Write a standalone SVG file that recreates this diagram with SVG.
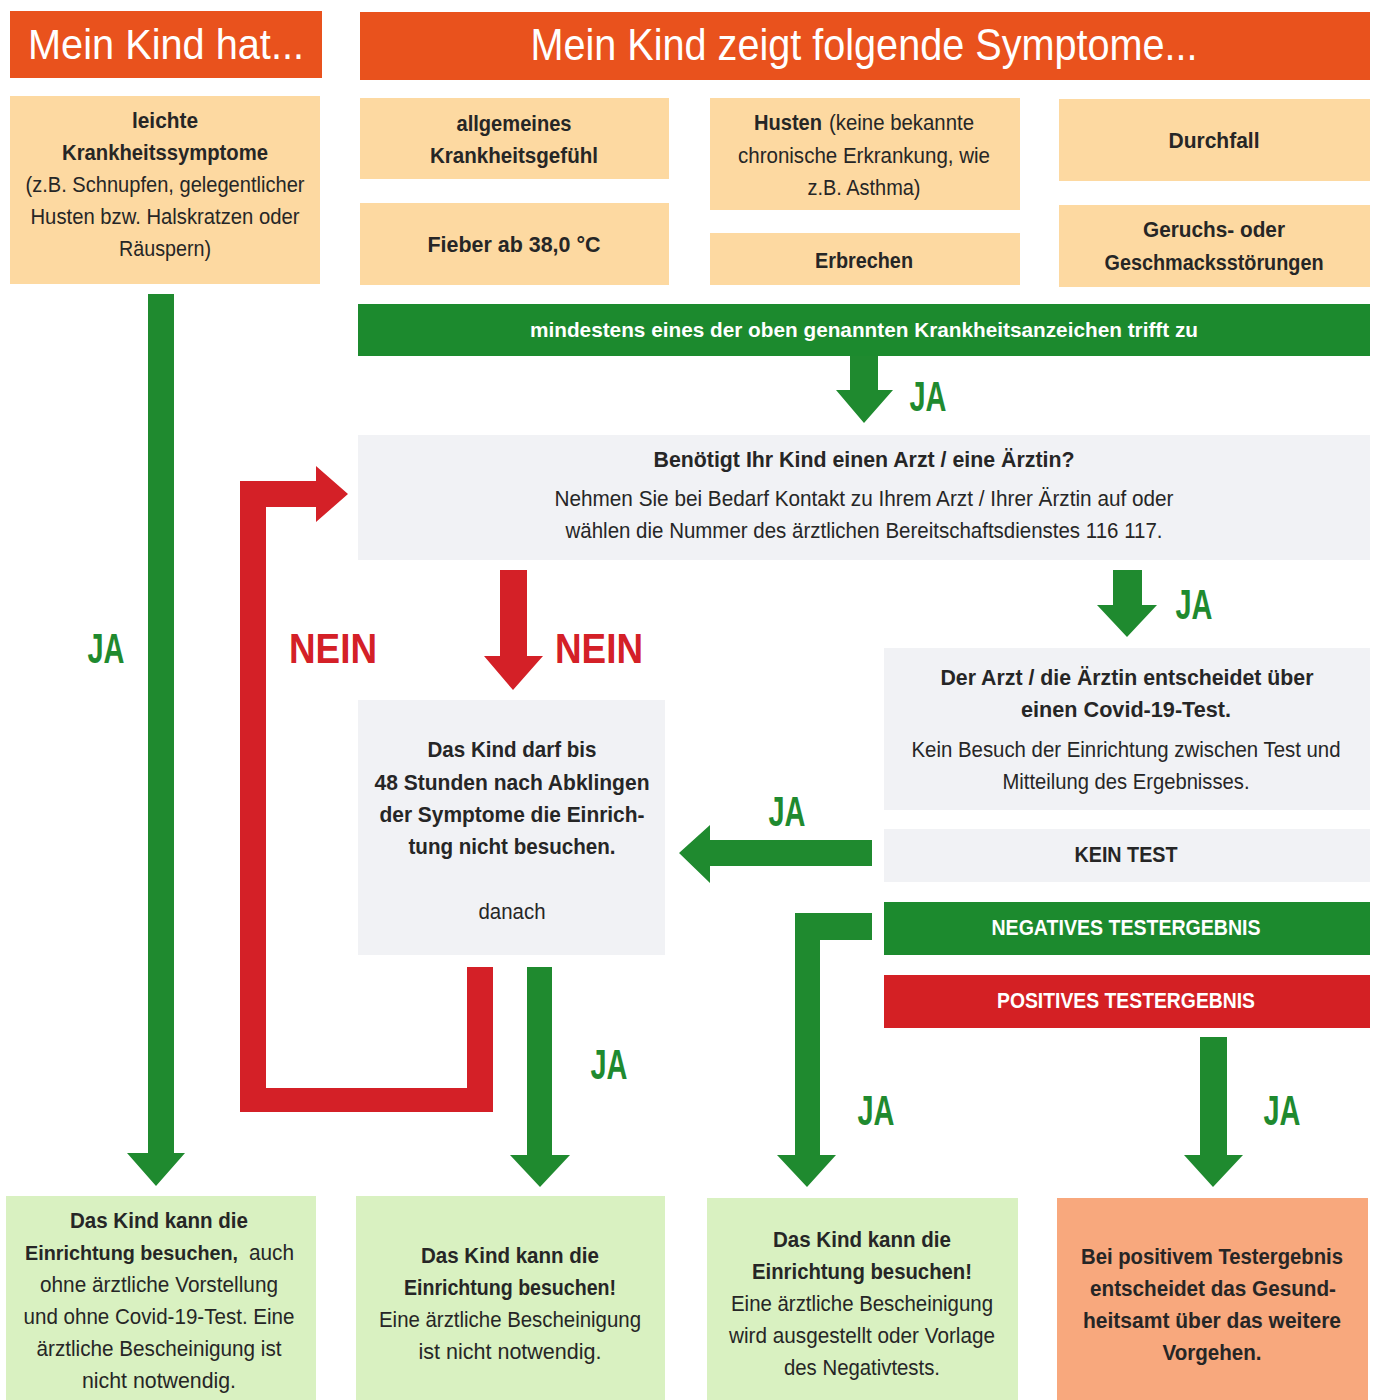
<svg xmlns="http://www.w3.org/2000/svg" width="1376" height="1400" viewBox="0 0 1376 1400">
<style>
text{font-family:"Liberation Sans",Arial,sans-serif;text-anchor:middle;fill:#262626;font-size:22px}
.b{font-weight:bold}
.s{text-anchor:start}
.hd{fill:#ffffff;font-size:42px}
.wb{fill:#ffffff;font-weight:bold;font-size:21px}
.ja{fill:#1f8a2f;font-weight:bold;font-size:42px}
.nein{fill:#d42027;font-weight:bold;font-size:42px}
.head{fill:#e9521d}
.sym{fill:#fdd9a1}
.grey{fill:#f1f2f5}
.lg{fill:#d9f1c1}
.sal{fill:#f8a87d}
.gbar{fill:#1c8a2e}
.rbar{fill:#d42024}
.ga{fill:#1f8a2f}
.ra{fill:#d42027}
</style>
<rect width="1376" height="1400" fill="#ffffff"/>

<g id="connectors">
<polygon class="ga" points="148,294 174,294 174,1153 185,1153 156,1186 127,1153 148,1153"/>
<polygon class="ga" points="850,356 878,356 878,390 893,390 864,423 836,390 850,390"/>
<polygon class="ra" points="467,967 493,967 493,1112 240,1112 240,481 316,481 316,466 348,494 316,522 316,507 266,507 266,1088 467,1088"/>
<polygon class="ra" points="500,570 527,570 527,656 543,656 513,690 484,656 500,656"/>
<polygon class="ga" points="1113,570 1142,570 1142,605 1157,605 1127,637 1097,605 1113,605"/>
<polygon class="ga" points="872,840 872,866 710,866 710,883 679,853 710,825 710,840"/>
<polygon class="ga" points="795,913 872,913 872,940 820,940 820,1155 836,1155 807,1187 777,1155 795,1155"/>
<polygon class="ga" points="527,967 552,967 552,1155 570,1155 540,1187 510,1155 527,1155"/>
<polygon class="ga" points="1200,1037 1227,1037 1227,1155 1243,1155 1213,1187 1184,1155 1200,1155"/>
<text class="ja" x="928" y="411" textLength="37" lengthAdjust="spacingAndGlyphs">JA</text>
<text class="ja" x="106" y="663" textLength="37" lengthAdjust="spacingAndGlyphs">JA</text>
<text class="nein" x="333" y="663" textLength="88" lengthAdjust="spacingAndGlyphs">NEIN</text>
<text class="nein" x="599" y="663" textLength="88" lengthAdjust="spacingAndGlyphs">NEIN</text>
<text class="ja" x="1194" y="619" textLength="37" lengthAdjust="spacingAndGlyphs">JA</text>
<text class="ja" x="787" y="826" textLength="37" lengthAdjust="spacingAndGlyphs">JA</text>
<text class="ja" x="609" y="1079" textLength="37" lengthAdjust="spacingAndGlyphs">JA</text>
<text class="ja" x="876" y="1125" textLength="37" lengthAdjust="spacingAndGlyphs">JA</text>
<text class="ja" x="1282" y="1125" textLength="37" lengthAdjust="spacingAndGlyphs">JA</text>
</g>

<g id="header-left">
<rect class="head" x="10" y="11" width="312" height="67"/>
<text class="hd" x="166" y="59" textLength="276" lengthAdjust="spacingAndGlyphs">Mein Kind hat...</text>
</g>
<g id="header-right">
<rect class="head" x="360" y="12" width="1010" height="68"/>
<text class="hd" x="864" y="60" textLength="667" lengthAdjust="spacingAndGlyphs" style="font-size:44px">Mein Kind zeigt folgende Symptome...</text>
</g>

<g id="leichte">
<rect class="sym" x="10" y="96" width="310" height="188"/>
<text class="b" x="165" y="128" textLength="66" lengthAdjust="spacingAndGlyphs">leichte</text>
<text class="b" x="165" y="160" textLength="206" lengthAdjust="spacingAndGlyphs">Krankheitssymptome</text>
<text x="165" y="192" textLength="279" lengthAdjust="spacingAndGlyphs">(z.B. Schnupfen, gelegentlicher</text>
<text x="165" y="224" textLength="269" lengthAdjust="spacingAndGlyphs">Husten bzw. Halskratzen oder</text>
<text x="165" y="256" textLength="92" lengthAdjust="spacingAndGlyphs">Räuspern)</text>
</g>

<g id="allgemeines">
<rect class="sym" x="360" y="98" width="309" height="81"/>
<text class="b" x="514" y="131" textLength="115" lengthAdjust="spacingAndGlyphs">allgemeines</text>
<text class="b" x="514" y="163" textLength="168" lengthAdjust="spacingAndGlyphs">Krankheitsgefühl</text>
</g>
<g id="fieber">
<rect class="sym" x="360" y="203" width="309" height="82"/>
<text class="b" x="514" y="252" textLength="173" lengthAdjust="spacingAndGlyphs">Fieber ab 38,0 °C</text>
</g>
<g id="husten">
<rect class="sym" x="710" y="98" width="310" height="112"/>
<text class="b s" x="754" y="130" textLength="68" lengthAdjust="spacingAndGlyphs">Husten</text>
<text class="s" x="829" y="130" textLength="145" lengthAdjust="spacingAndGlyphs">(keine bekannte</text>
<text x="864" y="163" textLength="252" lengthAdjust="spacingAndGlyphs">chronische Erkrankung, wie</text>
<text x="864" y="195" textLength="113" lengthAdjust="spacingAndGlyphs">z.B. Asthma)</text>
</g>
<g id="erbrechen">
<rect class="sym" x="710" y="233" width="310" height="52"/>
<text class="b" x="864" y="268" textLength="98" lengthAdjust="spacingAndGlyphs">Erbrechen</text>
</g>
<g id="durchfall">
<rect class="sym" x="1059" y="99" width="311" height="82"/>
<text class="b" x="1214" y="148" textLength="91" lengthAdjust="spacingAndGlyphs">Durchfall</text>
</g>
<g id="geruch">
<rect class="sym" x="1059" y="205" width="311" height="82"/>
<text class="b" x="1214" y="237" textLength="142" lengthAdjust="spacingAndGlyphs">Geruchs- oder</text>
<text class="b" x="1214" y="270" textLength="219" lengthAdjust="spacingAndGlyphs">Geschmacksstörungen</text>
</g>

<g id="mindestens">
<rect class="gbar" x="358" y="304" width="1012" height="52"/>
<text class="wb" x="864" y="337" textLength="668" lengthAdjust="spacingAndGlyphs">mindestens eines der oben genannten Krankheitsanzeichen trifft zu</text>
</g>

<g id="arzt-frage">
<rect class="grey" x="358" y="435" width="1012" height="125"/>
<text class="b" x="864" y="467" textLength="421" lengthAdjust="spacingAndGlyphs">Benötigt Ihr Kind einen Arzt / eine Ärztin?</text>
<text x="864" y="506" textLength="619" lengthAdjust="spacingAndGlyphs">Nehmen Sie bei Bedarf Kontakt zu Ihrem Arzt / Ihrer Ärztin auf oder</text>
<text x="864" y="538" textLength="597" lengthAdjust="spacingAndGlyphs">wählen die Nummer des ärztlichen Bereitschaftsdienstes 116 117.</text>
</g>

<g id="48-stunden">
<rect class="grey" x="358" y="700" width="307" height="255"/>
<text class="b" x="512" y="757" textLength="169" lengthAdjust="spacingAndGlyphs">Das Kind darf bis</text>
<text class="b" x="512" y="790" textLength="275" lengthAdjust="spacingAndGlyphs">48 Stunden nach Abklingen</text>
<text class="b" x="512" y="822" textLength="265" lengthAdjust="spacingAndGlyphs">der Symptome die Einrich-</text>
<text class="b" x="512" y="854" textLength="207" lengthAdjust="spacingAndGlyphs">tung nicht besuchen.</text>
<text x="512" y="919" textLength="67" lengthAdjust="spacingAndGlyphs">danach</text>
</g>

<g id="arzt-test">
<rect class="grey" x="884" y="648" width="486" height="162"/>
<text class="b" x="1127" y="685" textLength="373" lengthAdjust="spacingAndGlyphs">Der Arzt / die Ärztin entscheidet über</text>
<text class="b" x="1126" y="717" textLength="210" lengthAdjust="spacingAndGlyphs">einen Covid-19-Test.</text>
<text x="1126" y="757" textLength="429" lengthAdjust="spacingAndGlyphs">Kein Besuch der Einrichtung zwischen Test und</text>
<text x="1126" y="789" textLength="247" lengthAdjust="spacingAndGlyphs">Mitteilung des Ergebnisses.</text>
</g>
<g id="kein-test">
<rect class="grey" x="884" y="829" width="486" height="53"/>
<text class="b" x="1126" y="862" textLength="103" lengthAdjust="spacingAndGlyphs">KEIN TEST</text>
</g>
<g id="negativ">
<rect class="gbar" x="884" y="902" width="486" height="53"/>
<text class="b" x="1126" y="935" textLength="269" lengthAdjust="spacingAndGlyphs" style="fill:#ffffff">NEGATIVES TESTERGEBNIS</text>
</g>
<g id="positiv">
<rect class="rbar" x="884" y="975" width="486" height="53"/>
<text class="b" x="1126" y="1008" textLength="258" lengthAdjust="spacingAndGlyphs" style="fill:#ffffff">POSITIVES TESTERGEBNIS</text>
</g>

<g id="ergebnis-1">
<rect class="lg" x="6" y="1196" width="310" height="204"/>
<text class="b" x="159" y="1228" textLength="178" lengthAdjust="spacingAndGlyphs">Das Kind kann die</text>
<text class="b s" x="25" y="1260" textLength="213" lengthAdjust="spacingAndGlyphs" style="font-size:20px">Einrichtung besuchen,</text>
<text class="s" x="249" y="1260" textLength="45" lengthAdjust="spacingAndGlyphs">auch</text>
<text x="159" y="1292" textLength="238" lengthAdjust="spacingAndGlyphs">ohne ärztliche Vorstellung</text>
<text x="159" y="1324" textLength="271" lengthAdjust="spacingAndGlyphs">und ohne Covid-19-Test. Eine</text>
<text x="159" y="1356" textLength="245" lengthAdjust="spacingAndGlyphs">ärztliche Bescheinigung ist</text>
<text x="159" y="1388" textLength="154" lengthAdjust="spacingAndGlyphs">nicht notwendig.</text>
</g>
<g id="ergebnis-2">
<rect class="lg" x="356" y="1196" width="309" height="204"/>
<text class="b" x="510" y="1263" textLength="178" lengthAdjust="spacingAndGlyphs">Das Kind kann die</text>
<text class="b" x="510" y="1295" textLength="212" lengthAdjust="spacingAndGlyphs">Einrichtung besuchen!</text>
<text x="510" y="1327" textLength="262" lengthAdjust="spacingAndGlyphs">Eine ärztliche Bescheinigung</text>
<text x="510" y="1359" textLength="183" lengthAdjust="spacingAndGlyphs">ist nicht notwendig.</text>
</g>
<g id="ergebnis-3">
<rect class="lg" x="707" y="1198" width="311" height="202"/>
<text class="b" x="862" y="1247" textLength="178" lengthAdjust="spacingAndGlyphs">Das Kind kann die</text>
<text class="b" x="862" y="1279" textLength="220" lengthAdjust="spacingAndGlyphs">Einrichtung besuchen!</text>
<text x="862" y="1311" textLength="262" lengthAdjust="spacingAndGlyphs">Eine ärztliche Bescheinigung</text>
<text x="862" y="1343" textLength="266" lengthAdjust="spacingAndGlyphs">wird ausgestellt oder Vorlage</text>
<text x="862" y="1375" textLength="156" lengthAdjust="spacingAndGlyphs">des Negativtests.</text>
</g>
<g id="ergebnis-4">
<rect class="sal" x="1057" y="1198" width="311" height="202"/>
<text class="b" x="1212" y="1264" textLength="262" lengthAdjust="spacingAndGlyphs">Bei positivem Testergebnis</text>
<text class="b" x="1213" y="1296" textLength="246" lengthAdjust="spacingAndGlyphs">entscheidet das Gesund-</text>
<text class="b" x="1212" y="1328" textLength="258" lengthAdjust="spacingAndGlyphs">heitsamt über das weitere</text>
<text class="b" x="1212" y="1360" textLength="99" lengthAdjust="spacingAndGlyphs">Vorgehen.</text>
</g>
</svg>
